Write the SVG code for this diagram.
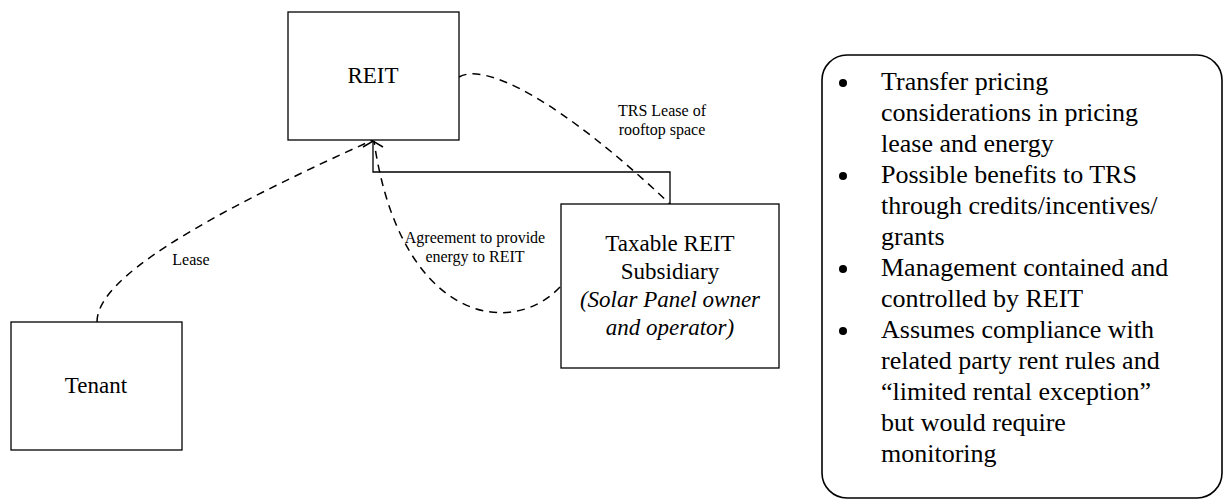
<svg xmlns="http://www.w3.org/2000/svg" width="1224" height="500" viewBox="0 0 1224 500">
  <style>
    .box { fill: #ffffff; stroke: #000000; stroke-width: 1.3; }
    .label { font-family: "Liberation Serif", "Times New Roman", serif; fill: #000000; text-anchor: middle; }
    .node-text { font-size: 23px; }
    .edge-text { font-size: 16px; }
    .dashed { fill: none; stroke: #000000; stroke-width: 1.5; stroke-dasharray: 8 6; }
    .solid { fill: none; stroke: #000000; stroke-width: 1.3; }
    .note-text { font-family: "Liberation Serif", "Times New Roman", serif; font-size: 26px; fill: #000000; }
  </style>
  <defs>
    <marker id="open-arrow" markerUnits="userSpaceOnUse" markerWidth="24" markerHeight="24" refX="0" refY="0" viewBox="-12 -12 24 24" orient="auto" overflow="visible">
      <path d="M -6,-10 L 0,0 L -6,10" fill="none" stroke="#000000" stroke-width="1.5" stroke-dasharray="none"/>
    </marker>
  </defs>

  <rect width="1224" height="500" fill="#ffffff"/>

  <!-- connectors -->
  <g id="connectors">
    <!-- Tenant to REIT: lease -->
    <path class="dashed" d="M97,322 C97,290 150,240 373,140"/>
    <!-- REIT to subsidiary: rooftop lease -->
    <path class="dashed" d="M459,77 C485,62 560,100 670,204"/>
    <!-- subsidiary to REIT: energy agreement -->
    <path class="dashed" d="M560,287 C510,340 400,320 374,141"/>
    <!-- ownership link -->
    <path class="solid" d="M670,204 L670,172 L373,172 L373,141" marker-end="url(#open-arrow)"/>
    <text class="label edge-text" x="191" y="265">Lease</text>
    <text class="label edge-text" x="662" y="116">TRS Lease of</text>
    <text class="label edge-text" x="662" y="135">rooftop space</text>
    <text class="label edge-text" x="475" y="243">Agreement to provide</text>
    <text class="label edge-text" x="475" y="262">energy to REIT</text>
  </g>

  <!-- REIT -->
  <g id="node-reit">
    <rect class="box" x="288" y="12" width="171" height="128"/>
    <text class="label node-text" x="373" y="83">REIT</text>
  </g>

  <!-- Tenant -->
  <g id="node-tenant">
    <rect class="box" x="11" y="322" width="171" height="128"/>
    <text class="label node-text" x="96" y="393">Tenant</text>
  </g>

  <!-- Taxable REIT subsidiary -->
  <g id="node-trs">
    <rect class="box" x="561" y="204" width="218" height="164"/>
    <text class="label node-text" x="670" y="251">Taxable REIT</text>
    <text class="label node-text" x="670" y="279">Subsidiary</text>
    <text class="label node-text" x="670" y="307" font-style="italic">(Solar Panel owner</text>
    <text class="label node-text" x="670" y="335" font-style="italic">and operator)</text>
  </g>

  <!-- notes panel -->
  <g id="node-notes">
    <rect x="822" y="55" width="400" height="443" rx="25" ry="25" fill="#ffffff" stroke="#000000" stroke-width="1.6"/>
    <circle cx="843" cy="83" r="4"/>
    <circle cx="843" cy="176" r="4"/>
    <circle cx="843" cy="269" r="4"/>
    <circle cx="843" cy="331" r="4"/>
    <text class="note-text" x="881" y="90">Transfer pricing</text>
    <text class="note-text" x="881" y="121">considerations in pricing</text>
    <text class="note-text" x="881" y="152">lease and energy</text>
    <text class="note-text" x="881" y="183">Possible benefits to TRS</text>
    <text class="note-text" x="881" y="214">through credits/incentives/</text>
    <text class="note-text" x="881" y="245">grants</text>
    <text class="note-text" x="881" y="276">Management contained and</text>
    <text class="note-text" x="881" y="307">controlled by REIT</text>
    <text class="note-text" x="881" y="338">Assumes compliance with</text>
    <text class="note-text" x="881" y="369">related party rent rules and</text>
    <text class="note-text" x="881" y="400">“limited rental exception”</text>
    <text class="note-text" x="881" y="431">but would require</text>
    <text class="note-text" x="881" y="462">monitoring</text>
  </g>
</svg>
